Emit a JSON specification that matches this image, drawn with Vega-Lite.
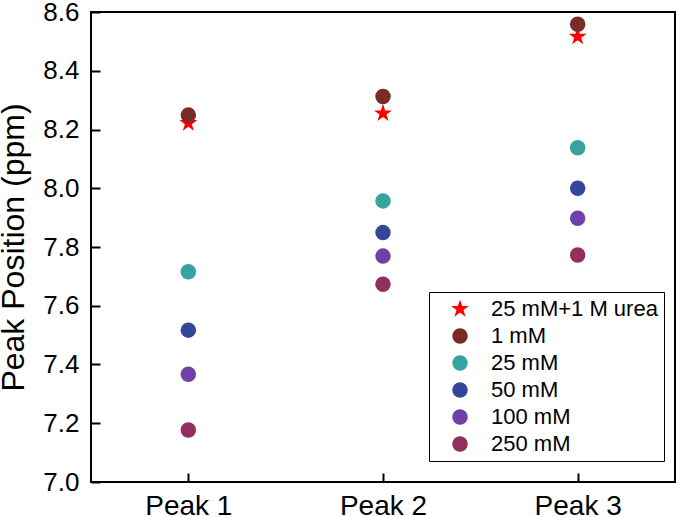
{
  "$schema": "https://vega.github.io/schema/vega-lite/v6.json",
  "width": 584,
  "height": 470,
  "autosize": {"type": "none"},
  "padding": {"left": 91, "top": 12, "right": 2, "bottom": 35},
  "background": "white",
  "config": {
    "font": "Liberation Sans",
    "view": {"stroke": "black", "strokeWidth": 2, "fill": null},
    "axis": {"grid": false, "domain": false, "labelColor": "black", "titleColor": "black", "labelFont": "Liberation Sans", "titleFont": "Liberation Sans", "titleFontWeight": "normal"}
  },
  "data": {
    "values": [
      {"peak": "Peak 1", "series": "25 mM+1 M urea", "ppm": 8.222},
      {"peak": "Peak 2", "series": "25 mM+1 M urea", "ppm": 8.255},
      {"peak": "Peak 3", "series": "25 mM+1 M urea", "ppm": 8.516},
      {"peak": "Peak 1", "series": "1 mM", "ppm": 8.249},
      {"peak": "Peak 2", "series": "1 mM", "ppm": 8.312},
      {"peak": "Peak 3", "series": "1 mM", "ppm": 8.558},
      {"peak": "Peak 1", "series": "25 mM", "ppm": 7.716},
      {"peak": "Peak 2", "series": "25 mM", "ppm": 7.957},
      {"peak": "Peak 3", "series": "25 mM", "ppm": 8.138},
      {"peak": "Peak 1", "series": "50 mM", "ppm": 7.517},
      {"peak": "Peak 2", "series": "50 mM", "ppm": 7.849},
      {"peak": "Peak 3", "series": "50 mM", "ppm": 8.0},
      {"peak": "Peak 1", "series": "100 mM", "ppm": 7.367},
      {"peak": "Peak 2", "series": "100 mM", "ppm": 7.769},
      {"peak": "Peak 3", "series": "100 mM", "ppm": 7.898},
      {"peak": "Peak 1", "series": "250 mM", "ppm": 7.177},
      {"peak": "Peak 2", "series": "250 mM", "ppm": 7.673},
      {"peak": "Peak 3", "series": "250 mM", "ppm": 7.773}
    ]
  },
  "mark": {"type": "point", "filled": true, "opacity": 1},
  "encoding": {
    "x": {
      "field": "peak", "type": "ordinal", "sort": null,
      "scale": {"type": "point", "padding": 0.5},
      "axis": {"title": null, "zindex": 2, "offset": -9, "ticks": true, "tickColor": "black", "tickWidth": 2, "tickSize": 9, "labelAngle": 0, "labelFontSize": 28, "labelPadding": 10, "labelBaseline": "top"}
    },
    "y": {
      "field": "ppm", "type": "quantitative",
      "scale": {"domain": [7.0, 8.6], "nice": false, "zero": false},
      "axis": {"title": "Peak Position (ppm)", "zindex": 2, "offset": -9, "ticks": true, "tickColor": "black", "tickWidth": 2, "tickSize": 9, "titleFontSize": 32, "labelFontSize": 26, "labelPadding": 12, "values": [7.0, 7.2, 7.4, 7.6, 7.8, 8.0, 8.2, 8.4, 8.6], "format": ".1f", "titlePadding": 12}
    },
    "color": {
      "field": "series", "type": "nominal",
      "scale": {"domain": ["25 mM+1 M urea", "1 mM", "25 mM", "50 mM", "100 mM", "250 mM"], "range": ["#ff0000", "#7a2b27", "#36a39f", "#34469a", "#7040a9", "#932f5f"]},
      "legend": {"title": null, "orient": "none", "legendX": 338, "legendY": 280, "strokeColor": "black", "padding": 6, "labelFontSize": 22, "labelColor": "black", "labelLimit": 300, "rowPadding": 5, "symbolOffset": 14, "labelOffset": 20, "fillColor": "white",
        "encode": {"legend": {"update": {"strokeWidth": {"value": 1.5}}}}}
    },
    "size": {
      "field": "series", "type": "nominal",
      "scale": {"type": "ordinal", "domain": ["25 mM+1 M urea", "1 mM", "25 mM", "50 mM", "100 mM", "250 mM"], "range": [360, 240, 240, 240, 240, 240]}
    },
    "shape": {
      "field": "series", "type": "nominal",
      "scale": {"domain": ["25 mM+1 M urea", "1 mM", "25 mM", "50 mM", "100 mM", "250 mM"], "range": ["M0,-1L0.2245,-0.309L0.951,-0.309L0.363,0.118L0.588,0.809L0,0.382L-0.588,0.809L-0.363,0.118L-0.951,-0.309L-0.2245,-0.309Z", "circle", "circle", "circle", "circle", "circle"]}
    }
  }
}
